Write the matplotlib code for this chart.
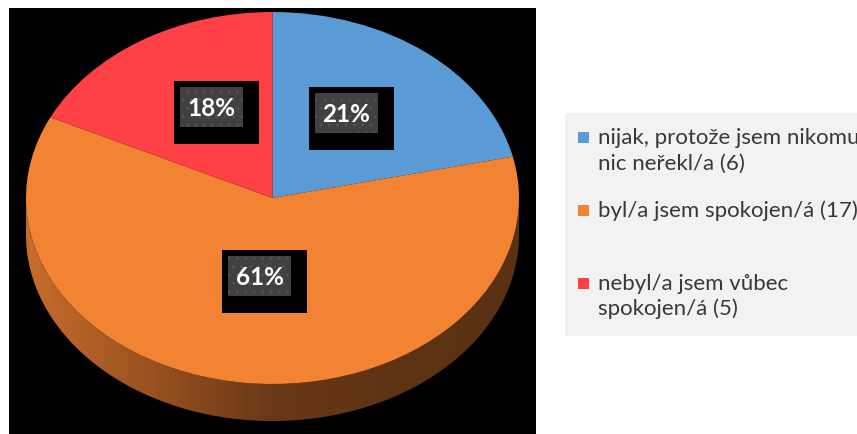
import numpy as np
import matplotlib
matplotlib.use("Agg")
import matplotlib.pyplot as plt
from matplotlib.patches import Rectangle, Polygon
from matplotlib.colors import LinearSegmentedColormap

# data
labels = ["nijak, protože jsem nikomu\nnic neřekl/a (6)",
          "byl/a jsem spokojen/á (17)",
          "nebyl/a jsem vůbec\nspokojen/á (5)"]
counts = [6, 17, 5]
colors = ["#5b9bd5", "#f28333", "#ff4044"]

# layout (pixel positions, top-left origin)
label_centers = [(346.5, 113.5), (260, 277), (211.5, 108)]
legend_rows = [144, 217, 290]   # baseline of first line per item

W, H = 857, 435
plt.rcParams['font.family'] = ['Lato', 'DejaVu Sans']
fig = plt.figure(figsize=(W / 100, H / 100), dpi=100)


def px_axes(x0, y0, x1, y1):
    return fig.add_axes([x0 / W, 1 - y1 / H, (x1 - x0) / W, (y1 - y0) / H])


# black chart area
bg = px_axes(9, 9, 536, 435)
bg.set_facecolor("black")
bg.set_xticks([])
bg.set_yticks([])
for s in bg.spines.values():
    s.set_visible(False)

# pie (elliptical, with a side band for the 3D look)
depth = 37 / 186
pie_ax = px_axes(26, 13, 519, 422)
wedges, _ = pie_ax.pie(counts, colors=colors, startangle=90, counterclock=False,
                       radius=1, wedgeprops=dict(linewidth=0, zorder=2))
pie_ax.set_aspect("auto")
pie_ax.set_xlim(-1, 1)
pie_ax.set_ylim(-1 - depth, 1)
pie_ax.axis("off")

t = np.linspace(np.pi, 2 * np.pi, 300)
top = np.column_stack([np.cos(t), np.sin(t)])
bot = np.column_stack([np.cos(t[::-1]), np.sin(t[::-1]) - depth])
side = Polygon(np.vstack([top, bot]), closed=True, facecolor="none", edgecolor="none")
pie_ax.add_patch(side)
side_cmap = LinearSegmentedColormap.from_list(
    "side", ["#c86c2d", "#9a5220", "#6a3817", "#5e3314", "#5a3113"])
im = pie_ax.imshow(np.linspace(0, 1, 256)[None, :], cmap=side_cmap,
                   extent=(-1, 1, -1 - depth, 0), aspect="auto", zorder=1)
im.set_clip_path(side)

# overlay in pixel coordinates for labels and legend
ov = fig.add_axes([0, 0, 1, 1], facecolor="none")
ov.set_xlim(0, W)
ov.set_ylim(H, 0)
ov.axis("off")

total = sum(counts)
for (cx, cy), c in zip(label_centers, counts):
    ov.add_patch(Rectangle((cx - 37.5, cy - 26), 85, 63, facecolor="black", lw=0))
    ov.add_patch(Rectangle((cx - 31.5, cy - 20), 63, 40, facecolor="#404040",
                           edgecolor="#525252", hatch="..", lw=0))
    ov.text(cx, cy + 1, f"{round(c / total * 100)}%", color="white", fontsize=17.5,
            fontweight="bold", ha="center", va="center")

# legend
ov.add_patch(Rectangle((565, 114), 300, 223, facecolor="#f2f2f2", lw=0))
for lab, col, yb in zip(labels, colors, legend_rows):
    ov.add_patch(Rectangle((578, yb - 11), 11, 11, facecolor=col, lw=0))
    for i, line in enumerate(lab.split("\n")):
        ov.text(598, yb + i * 25.5, line, color="#383838", fontsize=16,
                ha="left", va="baseline")

fig.savefig("out.png", dpi=100, facecolor="white")
